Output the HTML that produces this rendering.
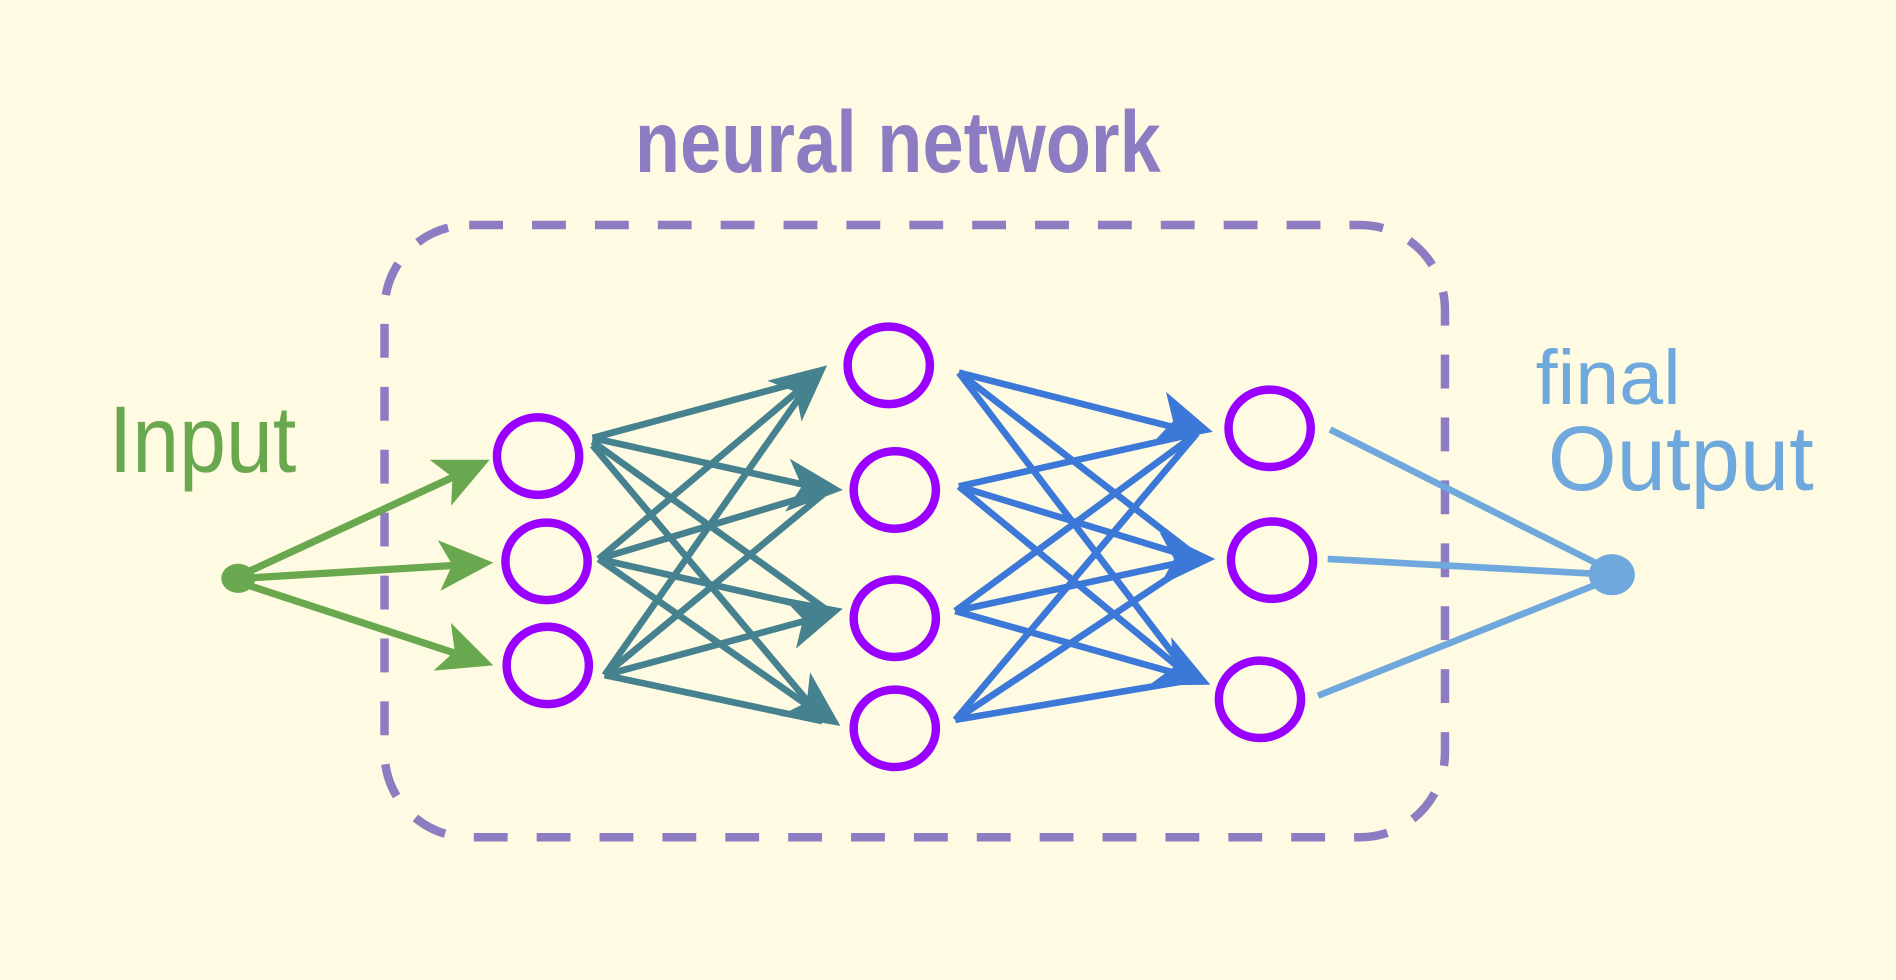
<!DOCTYPE html>
<html><head><meta charset="utf-8"><style>
html,body{margin:0;padding:0;background:#fffbe2;width:1896px;height:980px;overflow:hidden}
svg{display:block}
text{font-family:"Liberation Sans Narrow","Liberation Sans",sans-serif}
</style></head><body>
<svg width="1896" height="980" viewBox="0 0 1568 810" preserveAspectRatio="none" xmlns="http://www.w3.org/2000/svg">
<rect x="0" y="0" width="1568" height="810" fill="#fffbe2"/>
<rect x="318" y="186" width="877" height="506" rx="70" fill="none" stroke="#8e7cc3" stroke-width="7" stroke-dasharray="28,24"/>
<text x="525" y="142" font-size="72" fill="#8e7cc3" font-weight="bold" textLength="435" lengthAdjust="spacingAndGlyphs">neural network</text>
<text x="90" y="390" font-size="78" fill="#6aa84f" textLength="155" lengthAdjust="spacingAndGlyphs">Input</text>
<text x="1270" y="334" font-size="64" fill="#6fa8dc" textLength="120" lengthAdjust="spacingAndGlyphs">final</text>
<text x="1280" y="405" font-size="76" fill="#6fa8dc" textLength="220" lengthAdjust="spacingAndGlyphs">Output</text>
<g stroke="#6aa84f" stroke-width="6" fill="none">
<line x1="200" y1="475" x2="395" y2="385"/>
<line x1="200" y1="478" x2="398" y2="466"/>
<line x1="200" y1="482" x2="398" y2="547"/>
</g>
<g fill="#6aa84f">
<path d="M0,0 L-45,-21 L-34,0 L-45,21Z" transform="translate(405,380) rotate(-25)"/>
<path d="M0,0 L-45,-21 L-34,0 L-45,21Z" transform="translate(408,465) rotate(-3)"/>
<path d="M0,0 L-45,-21 L-34,0 L-45,21Z" transform="translate(408,550) rotate(20)"/>
</g>
<ellipse cx="197" cy="478" rx="14" ry="12" fill="#6aa84f"/>
<g stroke="#45818e" stroke-width="5.5" fill="none">
<line x1="490" y1="362" x2="672" y2="313"/>
<line x1="490" y1="362" x2="685" y2="405"/>
<line x1="490" y1="365" x2="685" y2="505"/>
<line x1="490" y1="368" x2="675" y2="588"/>
<line x1="495" y1="462" x2="672" y2="313"/>
<line x1="495" y1="462" x2="685" y2="405"/>
<line x1="495" y1="462" x2="685" y2="505"/>
<line x1="495" y1="462" x2="675" y2="588"/>
<line x1="500" y1="558" x2="672" y2="313"/>
<line x1="500" y1="558" x2="685" y2="405"/>
<line x1="500" y1="558" x2="685" y2="508"/>
<line x1="500" y1="558" x2="680" y2="596"/>
</g>
<g fill="#45818e">
<path d="M0,0 L-46,-22 L-34,0 L-46,22Z" transform="translate(684,302) rotate(-40)"/>
<path d="M0,0 L-46,-22 L-34,0 L-46,22Z" transform="translate(697,405) rotate(5)"/>
<path d="M0,0 L-46,-22 L-34,0 L-46,22Z" transform="translate(697,503) rotate(-15)"/>
<path d="M0,0 L-46,-22 L-34,0 L-46,22Z" transform="translate(695,600) rotate(35)"/>
</g>
<g stroke="#3c78d8" stroke-width="5.5" fill="none">
<line x1="793" y1="308" x2="990" y2="358"/>
<line x1="793" y1="308" x2="990" y2="460"/>
<line x1="793" y1="308" x2="985" y2="560"/>
<line x1="793" y1="402" x2="990" y2="358"/>
<line x1="793" y1="402" x2="990" y2="462"/>
<line x1="793" y1="402" x2="985" y2="560"/>
<line x1="790" y1="505" x2="990" y2="358"/>
<line x1="790" y1="505" x2="990" y2="462"/>
<line x1="790" y1="505" x2="985" y2="560"/>
<line x1="790" y1="595" x2="990" y2="358"/>
<line x1="790" y1="595" x2="990" y2="462"/>
<line x1="790" y1="595" x2="985" y2="562"/>
</g>
<g fill="#3c78d8">
<path d="M0,0 L-46,-22 L-34,0 L-46,22Z" transform="translate(1003,357) rotate(15)"/>
<path d="M0,0 L-46,-22 L-34,0 L-46,22Z" transform="translate(1005,462) rotate(0)"/>
<path d="M0,0 L-46,-22 L-34,0 L-46,22Z" transform="translate(1001,566) rotate(25)"/>
</g>
<g stroke="#6fa8dc" stroke-width="5.5">
<line x1="1100" y1="355" x2="1333" y2="472"/>
<line x1="1098" y1="462" x2="1333" y2="475"/>
<line x1="1090" y1="575" x2="1333" y2="478"/>
</g>
<ellipse cx="1333" cy="475" rx="19" ry="17" fill="#6fa8dc"/>
<g stroke="#9900ff" stroke-width="7" fill="none">
<ellipse cx="445" cy="377" rx="34" ry="32"/>
<ellipse cx="452" cy="464" rx="34" ry="32"/>
<ellipse cx="453" cy="550" rx="34" ry="32"/>
<ellipse cx="735" cy="302" rx="34" ry="32"/>
<ellipse cx="740" cy="405" rx="34" ry="32"/>
<ellipse cx="740" cy="511" rx="34" ry="32"/>
<ellipse cx="740" cy="602" rx="34" ry="32"/>
<ellipse cx="1050" cy="354" rx="34" ry="32"/>
<ellipse cx="1052" cy="463" rx="34" ry="32"/>
<ellipse cx="1042" cy="578" rx="34" ry="32"/>
</g>
</svg>
</body></html>
